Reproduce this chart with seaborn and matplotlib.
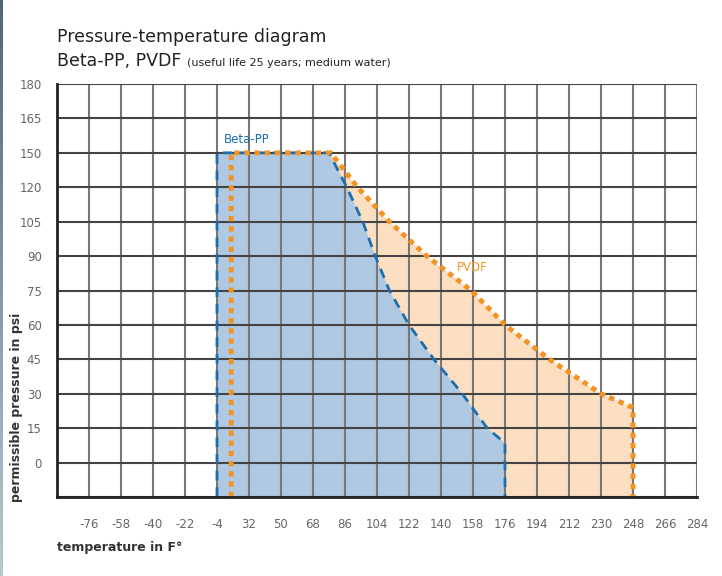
import numpy as np
import pandas as pd
import seaborn as sns
import matplotlib.pyplot as plt

# Beta-PP limit curve (temperature in F, pressure in psi)
pp_temp = [14, 14, 77, 87, 96, 103, 111, 122, 136, 152, 166, 176, 176]
pp_psi = [0, 150, 150, 135, 120, 105, 90, 75, 60, 45, 30, 23.5, 0]

# PVDF limit curve
pvdf_temp = [22, 22, 78, 93, 111, 132, 157, 176, 201, 230, 248, 248]
pvdf_psi = [0, 150, 150, 135, 120, 105, 90, 75, 60, 45, 39, 0]

# tick labels as printed on the chart
x_ticks = np.arange(-58, 285, 18)
x_labels = ["-76", "-58", "-40", "-22", "-4", "32", "50", "68", "86", "104",
            "122", "140", "158", "176", "194", "212", "230", "248", "266", "284"]
y_ticks = np.arange(15, 181, 15)
y_labels = ["0", "15", "30", "45", "60", "75", "90", "105", "120", "150", "165", "180"]

blue_line = "#1b6fae"
blue_fill = "#afc9e2"
orange_line = "#f39325"
orange_fill = "#fcdfc0"

sns.set_style("white")
plt.rcParams['font.family'] = ['DejaVu Sans']

fig = plt.figure(figsize=(7.22, 5.76), dpi=100)
ax = fig.add_axes([57 / 722, (576 - 497) / 576, 640 / 722, 413 / 576])

pp = pd.DataFrame({"temp": pp_temp, "psi": pp_psi})
pvdf = pd.DataFrame({"temp": pvdf_temp, "psi": pvdf_psi})

# filled areas below the grid
ax.fill(pvdf["temp"], pvdf["psi"], color=orange_fill, lw=0, zorder=0)
ax.fill(pp["temp"], pp["psi"], color=blue_fill, lw=0, zorder=0.5)

# grid
for xv in np.append(x_ticks, -76):
    ax.axvline(xv, color="#777777", lw=1.5, zorder=1)
for yv in np.append(y_ticks, 0):
    ax.axhline(yv, color="#444444", lw=1.5, zorder=1.2)

# limit lines
sns.lineplot(data=pp, x="temp", y="psi", sort=False, estimator=None,
             color=blue_line, lw=2, ax=ax, zorder=3)
ax.lines[-1].set_dashes([3.5, 2.5])
sns.lineplot(data=pvdf, x="temp", y="psi", sort=False, estimator=None,
             color=orange_line, lw=3.5, ax=ax, zorder=4)
ax.lines[-1].set_dashes([1.1, 1.0])

ax.text(18, 156, "Beta-PP", color=blue_line, fontsize=8.5, va="center")
ax.text(149, 100, "PVDF", color=orange_line, fontsize=8.5, va="center")

ax.set_xlim(-76, 284)
ax.set_ylim(0, 180)
ax.set_xticks(np.append(-76, x_ticks))
ax.set_xticklabels([""] + x_labels)
ax.set_yticks(np.append(0, y_ticks))
ax.set_yticklabels([""] + y_labels)
ax.tick_params(axis="both", direction="out", length=7, width=1.5,
               color="#333333", labelcolor="#666666", labelsize=8.5, pad=4)
ax.tick_params(axis="x", pad=8)

for side in ["top", "right"]:
    ax.spines[side].set_visible(False)
for side in ["left", "bottom"]:
    ax.spines[side].set_color("#222222")
    ax.spines[side].set_linewidth(2)
    ax.spines[side].set_zorder(5)

ax.set_xlabel("temperature in F°", loc="left", fontsize=9, color="#333333",
              fontweight="semibold")
ax.xaxis.set_label_coords(0, -50 / 413)
ax.xaxis.label.set_va("center")
ax.set_ylabel("permissible pressure in psi", loc="bottom", fontsize=9,
              color="#333333", fontweight="semibold")
ax.yaxis.set_label_coords(-34 / 640, -5 / 413)

fig.text(57 / 722, 1 - 42 / 576, "Pressure-temperature diagram",
         fontsize=12.5, color="#222222", va="baseline")
t = fig.text(57 / 722, 1 - 66 / 576, "Beta-PP, PVDF ", fontsize=12.5,
             color="#222222", va="baseline")
fig.canvas.draw()
bb = t.get_window_extent()
fig.text(bb.x1 / 722, 1 - 66 / 576, "(useful life 25 years; medium water)",
         fontsize=8, color="#222222", va="baseline")

# thin slate strip on the left edge
strip = fig.add_axes([0, 0, 2.5 / 722, 1])
strip.imshow(np.linspace(0, 1, 100).reshape(-1, 1), aspect="auto",
             cmap=plt.matplotlib.colors.LinearSegmentedColormap.from_list(
                 "s", ["#4f6878", "#b9c8d0"]))
strip.axis("off")

fig.savefig("out.png", dpi=100)
